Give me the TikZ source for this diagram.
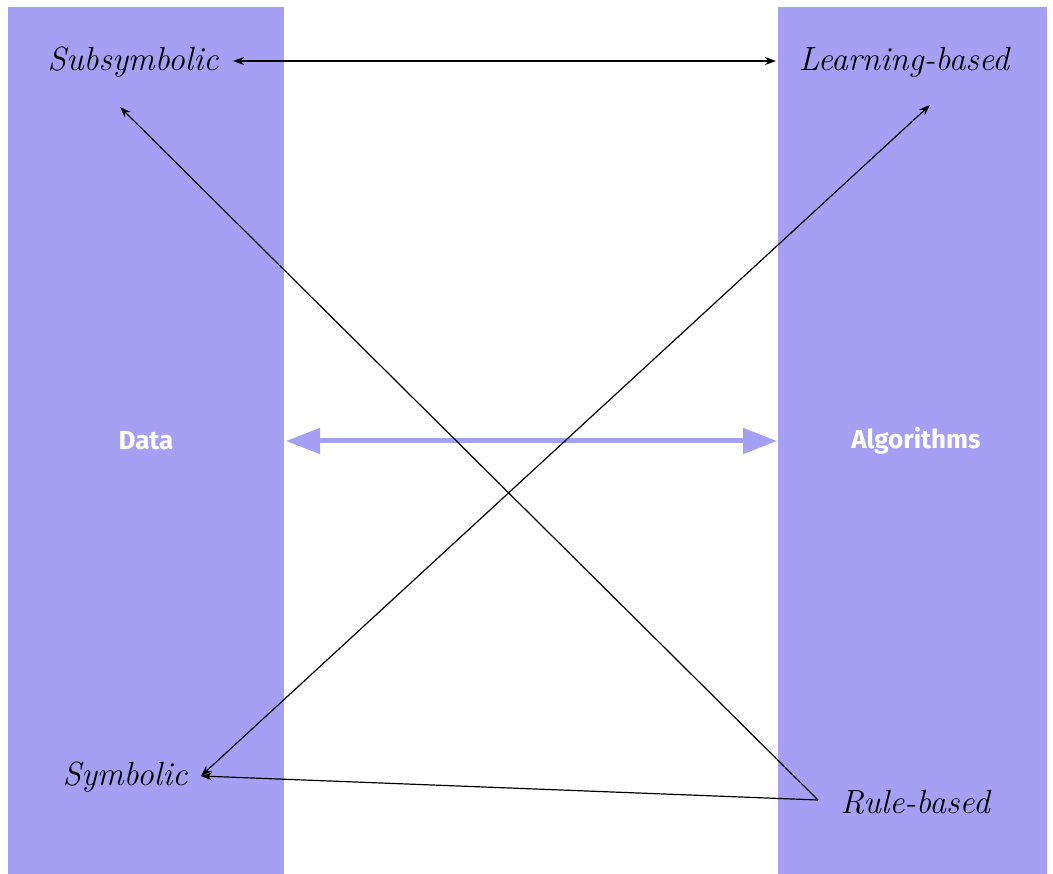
\documentclass[tikz,border=0pt]{standalone}
\usepackage{fontspec}
\newfontfamily\labfont{Fira Sans}
\usetikzlibrary{arrows.meta}
\definecolor{colpurple}{RGB}{166,160,244}
\tikzset{
  column/.style={fill=colpurple, draw=none},
  hand/.style={font=\fontsize{33.5}{38}\selectfont\itshape, text=black, inner sep=0pt},
  title/.style={font=\labfont\fontsize{26}{30}\selectfont\bfseries, text=white, inner sep=0pt},
  link/.style={line width=1.2pt, black},
  blacktip/.tip={Stealth[length=11pt,width=8pt]},
  bigtip/.tip={Triangle[length=34pt,width=25pt]},
  bigarrow/.style={line width=5pt, colpurple, {bigtip}-{bigtip}}
}
\begin{document}
\begin{tikzpicture}[x=1pt,y=-1pt]
\useasboundingbox (0,0) rectangle (1053,874);
\fill[white] (0,0) rectangle (1053,874);
\fill[column] (8,7) rectangle (284,874);
\fill[column] (778,7) rectangle (1047,874);

\node[title] (data) at (146,441) {Data};
\node[title] (alg) at (916,441) {Algorithms};

\node[hand] (sub) at (133,62) {Subsymbolic};
\node[hand] (learn) at (904,62) {Learning-based};
\node[hand] (sym) at (125,777) {Symbolic};
\node[hand] (rule) at (915,802) {Rule-based};

\coordinate (subE) at (233,61);
\coordinate (learnW) at (776,61);
\coordinate (subS) at (120,107);
\coordinate (learnS) at (930,105);
\coordinate (symE) at (201,776);
\coordinate (ruleW) at (818,800);
\coordinate (dataE) at (286,441);
\coordinate (algW) at (777,441);

\draw[bigarrow] (dataE) -- (algW);

\draw[link, {blacktip}-{blacktip}] (subE) -- (learnW);
\draw[link, {blacktip}-{blacktip}] (symE) -- (learnS);
\draw[link, -{blacktip}] (ruleW) -- (subS);
\draw[link, -{blacktip}] (ruleW) -- (symE);
\end{tikzpicture}
\end{document}
